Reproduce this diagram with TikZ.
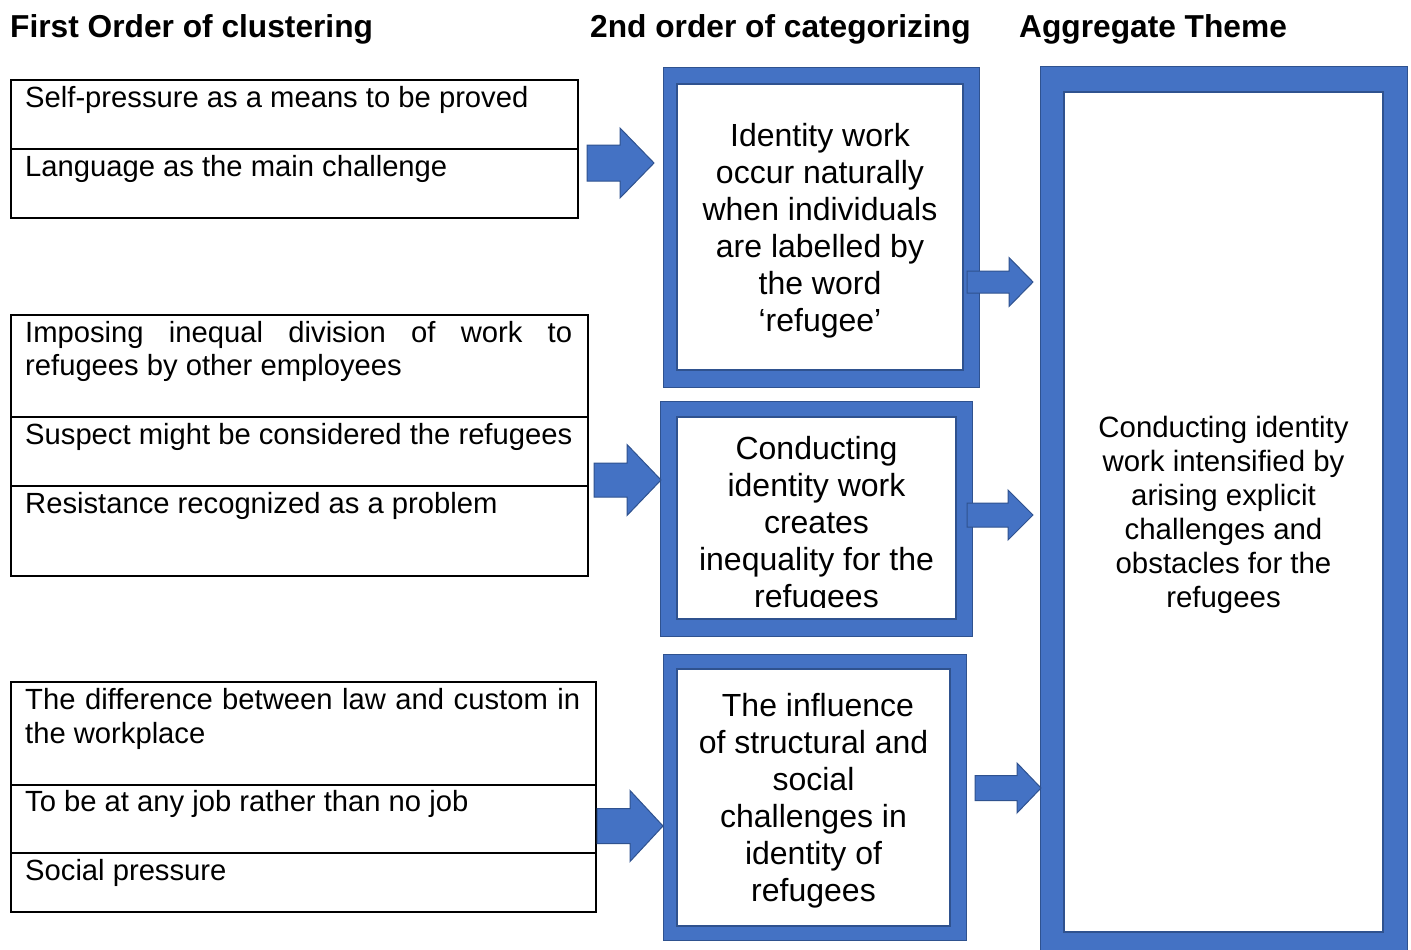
\documentclass[tikz,border=0pt]{standalone}
\usepackage{fontspec}
\setmainfont{Liberation Sans}
\definecolor{frameblue}{HTML}{4472C4}
\definecolor{frameedge}{HTML}{2F528F}

% block arrow: tail x, head base x, tip x, axis y, shaft half height, head half height
\newcommand\blkarrow[6]{%
  \draw[blockarrow] (#1,#4-#5) -- (#2,#4-#5) -- (#2,#4-#6) -- (#3,#4)
    -- (#2,#4+#6) -- (#2,#4+#5) -- (#1,#4+#5) -- cycle;}

\tikzset{
  cell/.style={draw=black, line width=1.6pt, rectangle, inner sep=0pt, anchor=north west},
  celltext/.style={anchor=base west, inner sep=0pt, font=\fontsize{29.2}{33.5}\selectfont},
  heading/.style={anchor=base west, inner sep=0pt, font=\bfseries\fontsize{31.7}{36}\selectfont},
  frameout/.style={rectangle, fill=frameblue, draw=frameedge, line width=1pt, inner sep=0pt},
  framein/.style={rectangle, fill=white, draw=frameedge, line width=2pt, inner sep=0pt},
  boxtext/.style={align=center, inner sep=0pt, font=\fontsize{32}{37}\selectfont},
  aggtext/.style={align=center, inner sep=0pt, font=\fontsize{29.4}{34}\selectfont},
  blockarrow/.style={fill=frameblue, draw=frameedge, line width=1pt, line join=miter},
}

\begin{document}
\begin{tikzpicture}[x=1pt, y=-1pt]
\useasboundingbox (0,0) rectangle (1411,950);
\clip (0,0) rectangle (1411,950);
\fill[white] (0,0) rectangle (1411,950);

% column headings
\node[heading] (h1) at (10,38) {First Order of clustering};
\node[heading] (h2) at (590,38) {2nd order of categorizing};
\node[heading] (h3) at (1019,38) {Aggregate Theme};

% first-order tables
\node[cell, minimum width=567pt, minimum height=69pt] (c11) at (10,79) {};
\node[cell, minimum width=567pt, minimum height=69pt] (c12) at (10,148) {};
\node[celltext] (t11) at (25,107) {Self-pressure as a means to be proved};
\node[celltext] (t12) at (25,176) {Language as the main challenge};

\node[cell, minimum width=577pt, minimum height=102pt] (c21) at (10,314) {};
\node[cell, minimum width=577pt, minimum height=69pt] (c22) at (10,416) {};
\node[cell, minimum width=577pt, minimum height=90pt] (c23) at (10,485) {};
\node[celltext] (t21) at (25,342) {\makebox[547pt][s]{Imposing inequal division of work to}};
\node[celltext] (t21b) at (25,375) {refugees by other employees};
\node[celltext] (t22) at (25,444) {Suspect might be considered the refugees};
\node[celltext] (t23) at (25,513) {Resistance recognized as a problem};

\node[cell, minimum width=585pt, minimum height=103pt] (c31) at (10,681) {};
\node[cell, minimum width=585pt, minimum height=68pt] (c32) at (10,784) {};
\node[cell, minimum width=585pt, minimum height=59pt] (c33) at (10,852) {};
\node[celltext] (t31) at (25,709) {\makebox[555pt][s]{The difference between law and custom in}};
\node[celltext] (t31b) at (25,743) {the workplace};
\node[celltext] (t32) at (25,811) {To be at any job rather than no job};
\node[celltext] (t33) at (25,880) {Social pressure};

% aggregate theme frame
\node[frameout, minimum width=367pt, minimum height=893pt] (fd) at (1223.5,513.5) {};
\node[framein, minimum width=319pt, minimum height=840pt] (fdi) at (1223.5,512) {};
\node[aggtext] (td) at (1223.5,515) {Conducting identity\\work intensified by\\arising explicit\\challenges and\\obstacles for the\\refugees};

% second-order frames
\node[frameout, minimum width=316pt, minimum height=319pt] (fa) at (821,227.5) {};
\node[framein, minimum width=286pt, minimum height=286pt] (fai) at (820,227) {};
\node[boxtext] (ta) at (820,230.5) {Identity work\\occur naturally\\when individuals\\are labelled by\\the word\\‘refugee’};

\node[frameout, minimum width=312pt, minimum height=235pt] (fb) at (816,518.5) {};
\node[framein, minimum width=279pt, minimum height=202pt] (fbi) at (816.5,518) {};
\begin{scope}
  \clip (677,417) rectangle (956,607);
  \node[boxtext] (tb) at (816.5,525.5) {Conducting\\identity work\\creates\\inequality for the\\refugees};
\end{scope}

\node[frameout, minimum width=303pt, minimum height=286pt] (fc) at (814.5,797) {};
\node[framein, minimum width=273pt, minimum height=257pt] (fci) at (813.5,797.5) {};
\node[boxtext] (tc) at (813.5,800.5) {\hspace*{9pt}The influence\\of structural and\\social\\challenges in\\identity of\\refugees};

% block arrows
\blkarrow{587}{620}{654}{163}{18}{35}
\blkarrow{594}{627}{661}{480}{17}{35.5}
\blkarrow{597}{630}{663}{826}{17.5}{35.5}
\blkarrow{967}{1009}{1033}{282}{11}{24.5}
\blkarrow{967}{1008}{1033}{515}{12}{25}
\blkarrow{975}{1017}{1041}{788}{12.5}{25}
\end{tikzpicture}
\end{document}
